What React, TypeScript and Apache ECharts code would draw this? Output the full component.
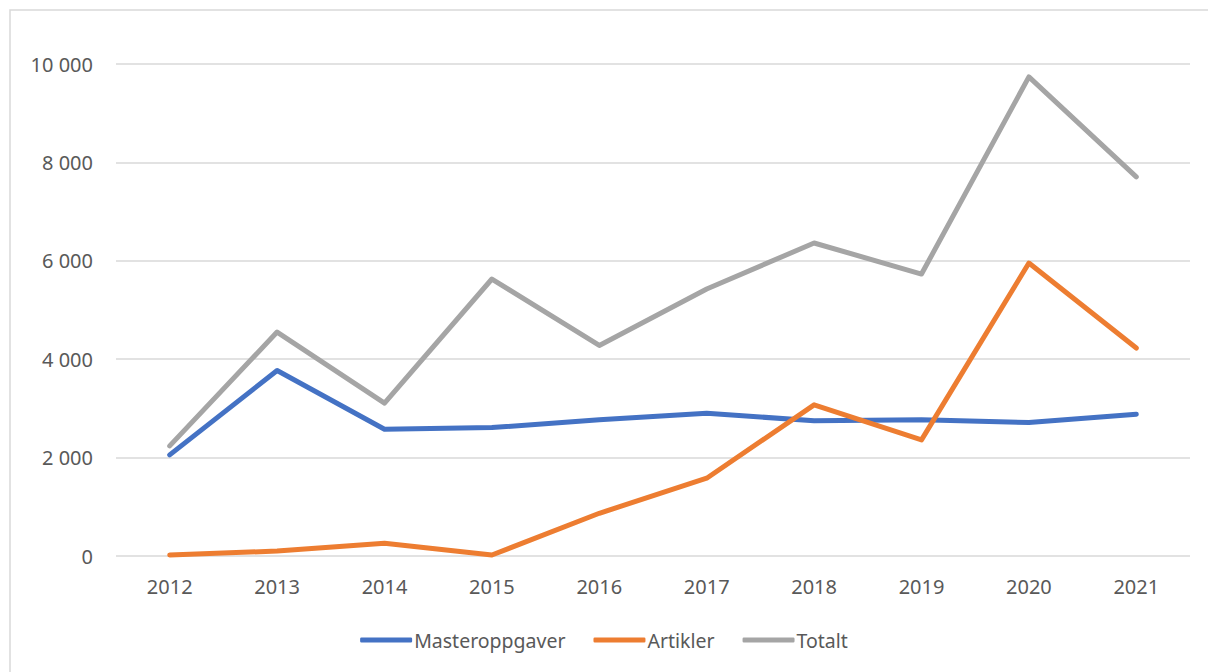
import React, { useEffect, useRef } from "react";
import * as echarts from "echarts";

const years = ["2012", "2013", "2014", "2015", "2016", "2017", "2018", "2019", "2020", "2021"];
const masteroppgaver = [2055, 3770, 2577, 2611, 2767, 2903, 2747, 2767, 2712, 2883];
const artikler = [20, 100, 258, 20, 868, 1581, 3072, 2360, 5955, 4226];
const totalt = [2238, 4551, 3106, 5630, 4279, 5426, 6362, 5731, 9739, 7705];

const FONT = "'Noto Sans', sans-serif";

export default function App() {
  const ref = useRef<HTMLDivElement>(null);
  useEffect(() => {
    const chart = echarts.init(ref.current!, undefined, { renderer: "svg" });
    const lineSeries = (name: string, data: number[], color: string) => ({
      name,
      type: "line",
      data,
      symbol: "none",
      showSymbol: false,
      lineStyle: { color, width: 5, cap: "round", join: "round" },
      itemStyle: { color },
    });
    chart.setOption({
      animation: false,
      backgroundColor: "#ffffff",
      graphic: [
        {
          type: "rect",
          shape: { x: 10, y: 10, width: 1220, height: 700 },
          style: { fill: "none", stroke: "#d9d9d9", lineWidth: 1.5 },
          silent: true,
        },
      ],
      grid: { left: 116, right: 18, top: 64, bottom: 116 },
      legend: {
        bottom: 17,
        left: "center",
        icon: "roundRect",
        itemWidth: 52,
        itemHeight: 5,
        itemGap: 28,
        textStyle: { fontFamily: FONT, fontSize: 19.5, color: "#595959", padding: [0, 0, 0, -3] },
        data: ["Masteroppgaver", "Artikler", "Totalt"],
      },
      xAxis: {
        type: "category",
        data: years,
        boundaryGap: true,
        axisLine: { show: false },
        axisTick: { show: false },
        axisLabel: { fontFamily: FONT, fontSize: 20, color: "#595959", margin: 20 },
      },
      yAxis: {
        type: "value",
        min: 0,
        max: 10000,
        interval: 2000,
        axisLine: { show: false },
        axisTick: { show: false },
        splitLine: { lineStyle: { color: "#d9d9d9", width: 1.5 } },
        axisLabel: {
          fontFamily: FONT,
          fontSize: 20,
          color: "#595959",
          margin: 23,
          formatter: (v: number) => String(v).replace(/\B(?=(\d{3})+(?!\d))/g, " "),
        },
      },
      series: [
        lineSeries("Masteroppgaver", masteroppgaver, "#4472C4"),
        lineSeries("Artikler", artikler, "#ED7D31"),
        lineSeries("Totalt", totalt, "#A5A5A5"),
      ],
    });
    return () => chart.dispose();
  }, []);
  return (
    <div
      ref={ref}
      style={{ position: "fixed", left: 0, top: 0, width: 1208, height: 672, background: "#fff" }}
    />
  );
}
